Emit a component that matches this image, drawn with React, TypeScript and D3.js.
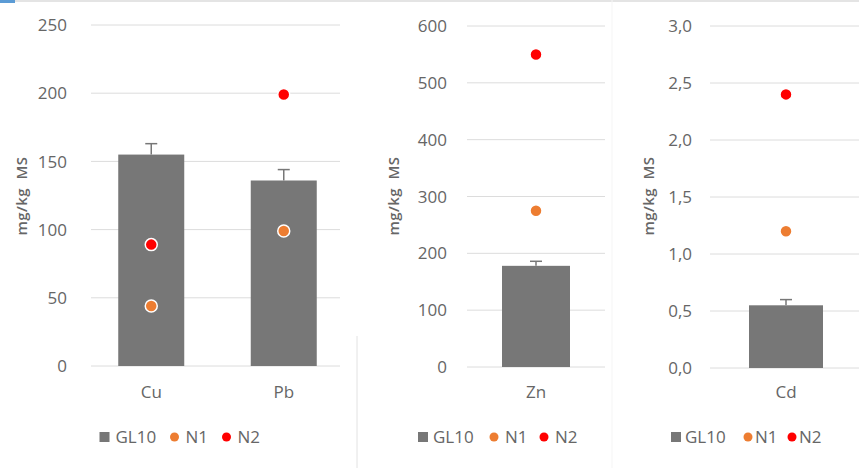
import React from "react";
import * as d3 from "d3";

// ---- data ----
const categoriesA = ["Cu", "Pb"];
const gl10A = [155, 136];
const gl10ErrA = [8, 8];
const n1A = [44, 99];
const n2A = [89, 199];
const ticksA = [0, 50, 100, 150, 200, 250];

const categoriesB = ["Zn"];
const gl10B = [178];
const gl10ErrB = [8];
const n1B = [275];
const n2B = [550];
const ticksB = [0, 100, 200, 300, 400, 500, 600];

const categoriesC = ["Cd"];
const gl10C = [0.55];
const gl10ErrC = [0.05];
const n1C = [1.2];
const n2C = [2.4];
const ticksC = [0, 0.5, 1.0, 1.5, 2.0, 2.5, 3.0];

const legendLabels = ["GL10", "N1", "N2"];
const yLabel = "mg/kg\u00a0\u00a0MS";

const BAR = "#777777";
const ORANGE = "#ED7D31";
const RED = "#FF0000";
const TEXT = "#666666";
const GRID = "#dcdcdc";
const FONT = "'Open Sans', 'Liberation Sans', sans-serif";

type PanelProps = {
  cats: string[];
  gl10: number[];
  err: number[];
  n1: number[];
  n2: number[];
  ticks: number[];
  fmt: (v: number) => string;
  x0: number;
  x1: number;
  gx0: number;
  gx1: number;
  yTop: number;
  yBot: number;
  barW: number;
  tickX: number;
  labelX: number;
  legendX: number;
  leg: number[];
};

function Panel(p: PanelProps) {
  const yMax = p.ticks[p.ticks.length - 1];
  const y = d3.scaleLinear().domain([0, yMax]).range([p.yBot, p.yTop]);
  const x = d3.scaleBand().domain(p.cats).range([p.x0, p.x1]);
  const cx = (c: string) => (x(c) as number) + x.bandwidth() / 2;
  const legY = 437;
  const fs = 17;
  return (
    <g fontFamily={FONT}>
      {p.ticks.map((t) => (
        <g key={t}>
          <line x1={p.gx0} x2={p.gx1} y1={y(t)} y2={y(t)} stroke={GRID} strokeWidth={1} />
          <text x={p.tickX} y={y(t)} dy="0.36em" textAnchor="end" fontSize={fs} fill={TEXT}>
            {p.fmt(t)}
          </text>
        </g>
      ))}
      {p.cats.map((c, i) => {
        const c0 = cx(c);
        const top = y(p.gl10[i] + p.err[i]);
        return (
          <g key={c}>
            <line x1={c0} x2={c0} y1={y(p.gl10[i])} y2={top} stroke={BAR} strokeWidth={1.5} />
            <line x1={c0 - 6} x2={c0 + 6} y1={top} y2={top} stroke={BAR} strokeWidth={1.5} />
            <rect x={c0 - p.barW / 2} width={p.barW} y={y(p.gl10[i])} height={y(0) - y(p.gl10[i])} fill={BAR} />
            <circle cx={c0} cy={y(p.n1[i])} r={6} fill={ORANGE} stroke="#fff" strokeWidth={1.5} />
            <circle cx={c0} cy={y(p.n2[i])} r={6} fill={RED} stroke="#fff" strokeWidth={1.5} />
            <text x={c0} y={398} textAnchor="middle" fontSize={fs} fill={TEXT}>
              {c}
            </text>
          </g>
        );
      })}
      <text
        transform={`translate(${p.labelX},196) rotate(-90)`}
        textAnchor="middle"
        fontSize={15}
        fontWeight={600}
        letterSpacing={0.4}
        fill={TEXT}
      >
        {yLabel}
      </text>
      <g transform={`translate(${p.legendX},${legY})`}>
        <rect x={-5} y={-5} width={10} height={10} fill={BAR} />
        <text x={p.leg[0]} dy="0.36em" fontSize={fs} fill={TEXT}>{legendLabels[0]}</text>
        <circle cx={p.leg[1]} cy={0} r={4.5} fill={ORANGE} />
        <text x={p.leg[2]} dy="0.36em" fontSize={fs} fill={TEXT}>{legendLabels[1]}</text>
        <circle cx={p.leg[3]} cy={0} r={4.5} fill={RED} />
        <text x={p.leg[4]} dy="0.36em" fontSize={fs} fill={TEXT}>{legendLabels[2]}</text>
      </g>
    </g>
  );
}

const fmtInt = (v: number) => d3.format("d")(v);
const fmtComma = (v: number) => d3.format(".1f")(v).replace(".", ",");

export default function App() {
  return (
    <svg
      width={859}
      height={468}
      style={{ position: "absolute", left: 0, top: 0, background: "#fff" }}
    >
      <rect width={859} height={468} fill="#fff" />
      <line x1={15} x2={859} y1={1} y2={1} stroke="#e4e4e4" strokeWidth={2} />
      <rect x={0} y={0} width={15} height={3} fill="#5b9bd5" />
      <line x1={357} x2={357} y1={336} y2={468} stroke="#e2e2e2" />
      <line x1={612} x2={612} y1={0} y2={468} stroke="#f5f5f5" />
      <Panel
        cats={categoriesA}
        gl10={gl10A}
        err={gl10ErrA}
        n1={n1A}
        n2={n2A}
        ticks={ticksA}
        fmt={fmtInt}
        x0={85}
        x1={350}
        gx0={91}
        gx1={340}
        yTop={25}
        yBot={366}
        barW={66}
        tickX={67}
        labelX={27}
        legendX={104.5}
        leg={[11, 70, 81, 122, 133]}
      />
      <Panel
        cats={categoriesB}
        gl10={gl10B}
        err={gl10ErrB}
        n1={n1B}
        n2={n2B}
        ticks={ticksB}
        fmt={fmtInt}
        x0={467}
        x1={605}
        gx0={467}
        gx1={605}
        yTop={26}
        yBot={367}
        barW={68}
        tickX={447}
        labelX={399}
        legendX={423}
        leg={[10, 71, 82, 121, 132]}
      />
      <Panel
        cats={categoriesC}
        gl10={gl10C}
        err={gl10ErrC}
        n1={n1C}
        n2={n2C}
        ticks={ticksC}
        fmt={fmtComma}
        x0={711}
        x1={861}
        gx0={710}
        gx1={859}
        yTop={26}
        yBot={368}
        barW={74}
        tickX={692}
        labelX={654}
        legendX={676}
        leg={[9, 72, 79, 116, 123]}
      />
    </svg>
  );
}
